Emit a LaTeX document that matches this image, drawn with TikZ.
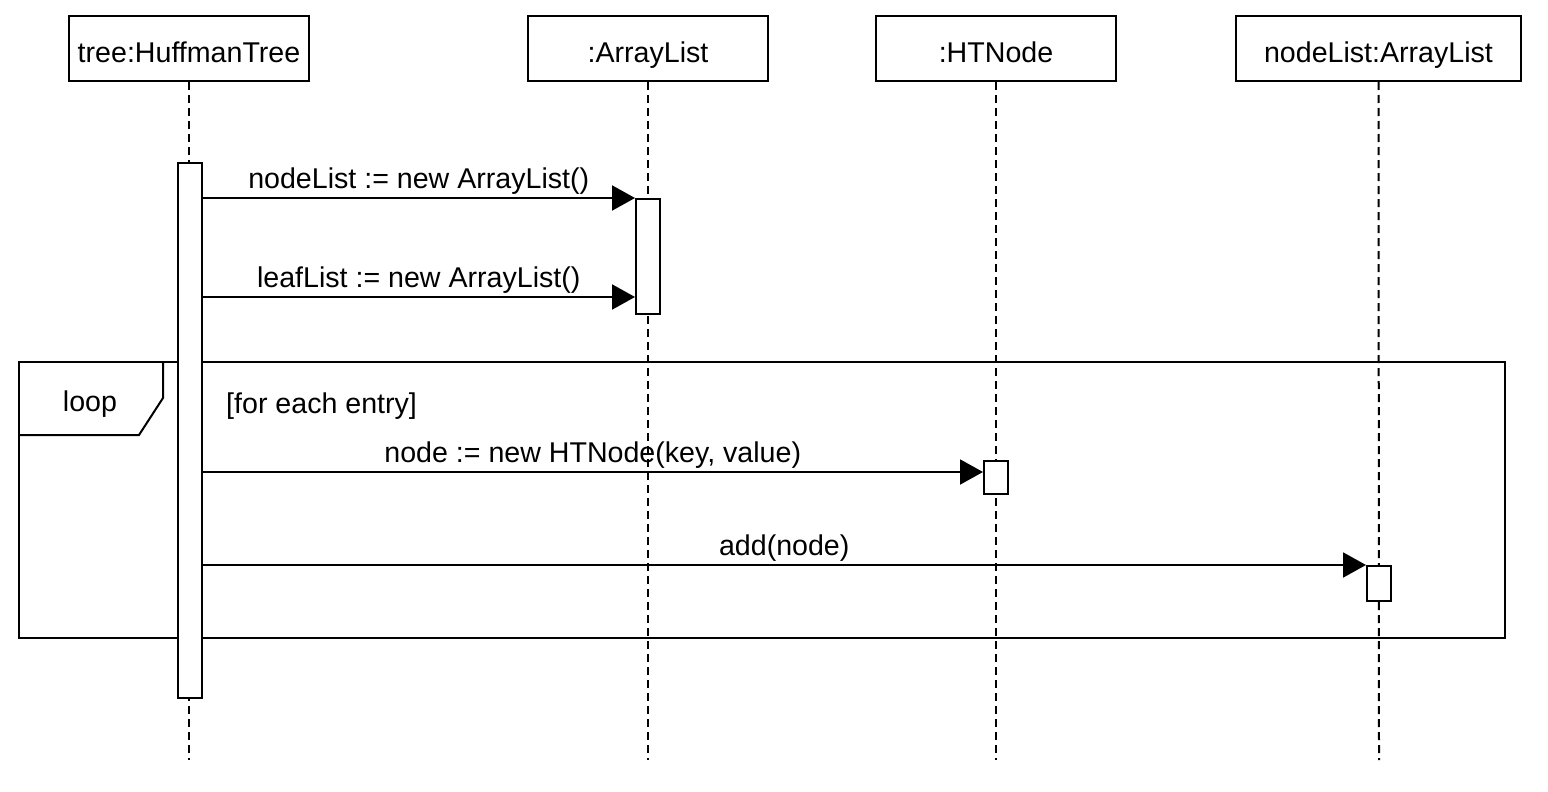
\documentclass[tikz,border=0pt]{standalone}
\usepackage{fontspec}
\setmainfont{Liberation Sans}
\usetikzlibrary{arrows.meta, positioning}

\tikzset{
  every node/.append style={text height=20pt, text depth=6pt},
  objbox/.style={draw, line width=2pt, fill=white, minimum width=240pt, minimum height=65pt, inner sep=0pt,
    text height=29pt, text depth=0pt},
  lifeline/.style={line width=2pt, dash pattern=on 8pt off 5pt},
  actbar/.style={draw, line width=2pt, fill=white, minimum width=24pt, inner sep=0pt},
  msg/.style={line width=2pt, -{Triangle[length=23pt,width=25pt]}},
  msglabel/.style={midway, above=1pt, inner sep=2pt},
  framebox/.style={line width=2pt}
}

\begin{document}
\begin{tikzpicture}[x=1pt,y=-1pt,font=\fontsize{28.6}{34}\selectfont]
\useasboundingbox (0,0) rectangle (1548,792);

% object heads
\node[objbox] (tree) at (189,48.5) {tree:HuffmanTree};
\node[objbox] (alist) at (648,48.5) {:ArrayList};
\node[objbox] (htnode) at (996,48.5) {:HTNode};
\node[objbox, minimum width=285pt] (nlist) at (1378.5,48.5) {nodeList:ArrayList};

% lifelines
\coordinate (treeEnd) at (189,760);
\coordinate (alistEnd) at (648,760);
\coordinate (htnodeEnd) at (996,760);
\coordinate (nlistEnd) at (1379,760);
\draw[lifeline] (tree) -- (treeEnd);
\draw[lifeline] (alist) -- (alistEnd);
\draw[lifeline] (htnode) -- (htnodeEnd);
\draw[lifeline] (nlist) -- (nlistEnd);

% loop fragment
\draw[framebox] (19,362) rectangle (1505,638);
\draw[framebox] (163,362) -- (163,398) -- (139,435) -- (19,435);
\node (loopTag) at (90,404) {loop};
\node[anchor=west, inner sep=0pt] (guard) at (226,406) {[for each entry]};

% activations
\node[actbar, minimum height=535pt] (actTree) at (189.5,430.5) {};
\node[actbar, minimum height=115pt] (actList) at (648,256.5) {};
\node[actbar, minimum height=33pt] (actNode) at (996,477.5) {};
\node[actbar, minimum height=35pt] (actNL) at (1379,583.5) {};

% messages
\coordinate (m2) at (0,297);
\coordinate (m3) at (0,472);
\draw[msg] (actTree.east |- actList.north) -- (actList.north west)
  node[msglabel] {nodeList := new ArrayList()};
\draw[msg] (actTree.east |- m2) -- (actList.west |- m2)
  node[msglabel] {leafList := new ArrayList()};
\draw[msg] (actTree.east |- m3) -- (actNode.west |- m3)
  node[msglabel] {node := new HTNode(key, value)};
\draw[msg] (actTree.east |- actNL.north) -- (actNL.north west)
  node[msglabel] {add(node)};

\end{tikzpicture}
\end{document}
